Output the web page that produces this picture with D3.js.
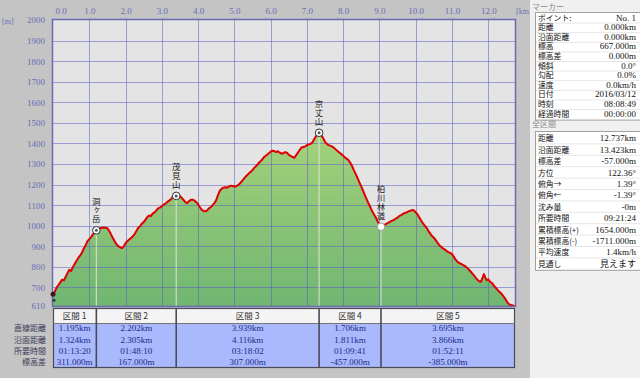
<!DOCTYPE html>
<html><head><meta charset="utf-8">
<script src="https://cdn.jsdelivr.net/npm/d3@7"></script>
<style>
html,body{margin:0;padding:0;background:#c4c4c4;}
svg{display:block;}
</style></head>
<body>
<svg id="c" width="640" height="378"></svg>
<script>
// ---------- data ----------
const distKm = [0.00,0.05,0.10,0.15,0.20,0.25,0.30,0.35,0.40,0.45,0.50,0.55,0.60,0.65,0.70,0.75,0.80,0.85,0.90,0.95,1.00,1.05,1.10,1.15,1.195,1.25,1.30,1.35,1.40,1.45,1.50,1.55,1.60,1.65,1.70,1.75,1.80,1.85,1.90,1.95,2.00,2.05,2.10,2.15,2.20,2.25,2.30,2.35,2.40,2.45,2.50,2.55,2.60,2.65,2.70,2.75,2.80,2.85,2.90,2.95,3.00,3.05,3.10,3.15,3.20,3.25,3.30,3.35,3.397,3.45,3.50,3.55,3.60,3.65,3.70,3.75,3.80,3.85,3.90,3.95,4.00,4.05,4.10,4.15,4.20,4.25,4.30,4.35,4.40,4.45,4.50,4.55,4.60,4.65,4.70,4.75,4.80,4.85,4.90,4.95,5.00,5.05,5.10,5.15,5.20,5.25,5.30,5.35,5.40,5.45,5.50,5.55,5.60,5.65,5.70,5.75,5.80,5.85,5.90,5.95,6.00,6.05,6.10,6.15,6.20,6.25,6.30,6.35,6.40,6.45,6.50,6.55,6.60,6.65,6.70,6.75,6.80,6.85,6.90,6.95,7.00,7.05,7.10,7.15,7.20,7.25,7.30,7.336,7.40,7.45,7.50,7.55,7.60,7.65,7.70,7.75,7.80,7.85,7.90,7.95,8.00,8.05,8.10,8.15,8.20,8.25,8.30,8.35,8.40,8.45,8.50,8.55,8.60,8.65,8.70,8.75,8.80,8.85,8.90,8.95,9.00,9.042,9.10,9.15,9.20,9.25,9.30,9.35,9.40,9.45,9.50,9.55,9.60,9.65,9.70,9.75,9.80,9.85,9.90,9.95,10.00,10.05,10.10,10.15,10.20,10.25,10.30,10.35,10.40,10.45,10.50,10.55,10.60,10.65,10.70,10.75,10.80,10.85,10.90,10.95,11.00,11.05,11.10,11.15,11.20,11.25,11.30,11.35,11.40,11.45,11.50,11.55,11.60,11.65,11.70,11.75,11.80,11.85,11.88,11.92,11.96,12.00,12.05,12.10,12.15,12.20,12.25,12.30,12.35,12.40,12.45,12.50,12.55,12.60,12.65,12.70,12.737];
const elevM = [667,680,700,712,725,738,735,752,770,786,780,800,815,830,845,856,870,890,905,925,935,945,958,968,978,985,988,990,992,990,988,975,958,940,925,910,902,895,891,900,915,925,933,940,948,960,975,990,998,1010,1018,1030,1042,1050,1047,1060,1065,1075,1085,1088,1095,1103,1108,1115,1122,1128,1140,1142,1145,1147,1145,1135,1125,1115,1110,1120,1126,1127,1122,1115,1105,1090,1078,1072,1070,1075,1085,1090,1100,1110,1125,1150,1170,1180,1185,1187,1185,1190,1195,1193,1190,1192,1197,1205,1215,1225,1237,1245,1255,1262,1270,1282,1290,1300,1310,1318,1330,1338,1345,1352,1360,1365,1363,1358,1362,1355,1350,1352,1358,1355,1345,1340,1335,1330,1342,1355,1368,1380,1383,1385,1392,1395,1398,1405,1420,1435,1448,1452,1440,1425,1408,1398,1392,1388,1385,1378,1370,1362,1355,1348,1340,1332,1325,1318,1305,1288,1268,1250,1230,1210,1190,1170,1148,1128,1108,1090,1070,1055,1040,1022,1005,995,998,1005,1010,1015,1020,1025,1028,1035,1040,1048,1052,1058,1062,1065,1070,1073,1076,1075,1065,1055,1040,1025,1012,1000,990,975,962,950,942,930,918,905,898,890,885,878,872,868,862,850,835,825,820,815,810,805,798,790,780,770,760,748,738,730,728,750,765,748,735,740,728,722,710,700,690,680,672,662,650,635,622,616,614,611,610];

const xTickValues = [0,1,2,3,4,5,6,7,8,9,10,11,12];
const yTickValues = [610,700,800,900,1000,1100,1200,1300,1400,1500,1600,1700,1800,1900,2000];

const wpNames = ["洞ヶ岳","茂見山","京丈山","柏川林道"];
const wpDist  = [1.195,3.397,7.336,9.042];
const wpElev  = [978,1145,1452,995];
const wpOpen  = [false,false,false,true];

const secNames    = ["区間 1","区間 2","区間 3","区間 4","区間 5"];
const secKm       = [1.195,2.202,3.939,1.706,3.695];
const secStraight = ["1.195km","2.202km","3.939km","1.706km","3.695km"];
const secSurface  = ["1.324km","2.305km","4.116km","1.811km","3.866km"];
const secTime     = ["01:13:20","01:48:10","03:18:02","01:09:41","01:52:11"];
const secDelta    = ["311.000m","167.000m","307.000m","-457.000m","-385.000m"];
const rowLabels   = ["直線距離","沿面距離","所要時間","標高差"];

const markerLabels = ["ポイント:","距離","沿面距離","標高","標高差","傾斜","勾配","速度","日付","時刻","経過時間"];
const markerValues = ["No. 1","0.000km","0.000km","667.000m","0.000m","0.0°","0.0%","0.0km/h","2016/03/12","08:08:49","00:00:00"];
const totalLabels = ["距離","沿面距離","標高差","方位","俯角→","俯角←","沈み量","所要時間","累積標高(+)","累積標高(-)","平均速度","見通し"];
const totalValues = ["12.737km","13.423km","-57.000m","122.36°","1.39°","-1.39°","-0m","09:21:24","1654.000m","-1711.000m","1.4km/h","見えます"];

// ---------- layout ----------
const svg = d3.select("#c");
const L = 53, R = 515, T = 20, B = 306;
const x = d3.scaleLinear().domain([0, 12.737]).range([L, R]);
const y = d3.scaleLinear().domain([610, 2000]).range([B, T]);
const serif = "'Liberation Serif','Noto Sans CJK JP',serif";
const cjk = "'Noto Sans CJK JP','Noto Sans',sans-serif";
const axisCol = "#6a6eb6";

svg.append("rect").attr("width",640).attr("height",378).attr("fill","#c4c4c4");

// plot bg
svg.append("rect").attr("x",L).attr("y",T).attr("width",R-L).attr("height",B-T).attr("fill","#e4e4e4");

// gradient
const defs = svg.append("defs");
const grad = defs.append("linearGradient").attr("id","gf").attr("gradientUnits","userSpaceOnUse")
  .attr("x1",0).attr("x2",0).attr("y1",y(1452)).attr("y2",y(610));
grad.append("stop").attr("offset",0).attr("stop-color","#a4d27a");
grad.append("stop").attr("offset",1).attr("stop-color","#70b672");

const pts = distKm.map((d,i)=>[d,elevM[i]]);
svg.append("path").datum(pts)
  .attr("d", d3.area().x(d=>x(d[0])).y0(y(610)).y1(d=>y(d[1])))
  .attr("fill","url(#gf)");

// grid
const grid = svg.append("g").attr("stroke","#5c5fc4").attr("stroke-opacity",0.55).attr("stroke-width",1);
xTickValues.filter(v=>v>0).forEach(v=>{
  grid.append("line").attr("x1",Math.round(x(v))+0.5).attr("x2",Math.round(x(v))+0.5).attr("y1",T).attr("y2",B);
});
yTickValues.filter(v=>v>610 && v<2000).forEach(v=>{
  grid.append("line").attr("x1",L).attr("x2",R).attr("y1",Math.round(y(v))+0.5).attr("y2",Math.round(y(v))+0.5);
});

// waypoint vertical lines
wpDist.forEach((d,i)=>{
  svg.append("line").attr("x1",x(d)).attr("x2",x(d)).attr("y1",y(wpElev[i])).attr("y2",B)
    .attr("stroke","#dfe6dc").attr("stroke-opacity",0.8).attr("stroke-width",1.2);
});

// profile line
svg.append("path").datum(pts)
  .attr("d", d3.line().x(d=>x(d[0])).y(d=>y(d[1])))
  .attr("fill","none").attr("stroke","#e00000").attr("stroke-width",2).attr("stroke-linejoin","round");

// plot border
svg.append("rect").attr("x",L-0.5).attr("y",T-0.5).attr("width",R-L+1).attr("height",B-T+1)
  .attr("fill","none").attr("stroke","#6a6ab0").attr("stroke-width",1.5);

// waypoint markers and vertical labels
wpDist.forEach((d,i)=>{
  const cx = x(d), cy = y(wpElev[i]);
  svg.append("circle").attr("cx",cx).attr("cy",cy).attr("r",3.8)
    .attr("fill","#ffffff").attr("stroke",wpOpen[i]?"#9a9a9a":"#333").attr("stroke-width",1);
  if(!wpOpen[i]) svg.append("circle").attr("cx",cx).attr("cy",cy).attr("r",1.5).attr("fill","#555");
  svg.append("text").attr("x",cx).attr("y",cy-7)
    .attr("writing-mode","vertical-rl").attr("text-anchor","end")
    .attr("font-family",cjk).attr("font-size",8.5).attr("letter-spacing",0.2)
    .attr("fill","#222").text(wpNames[i]);
});
// start marker
svg.append("circle").attr("cx",x(0)).attr("cy",y(elevM[0])).attr("r",2.5).attr("fill","#3a1a1a");
svg.append("circle").attr("cx",x(0)+1).attr("cy",y(elevM[0])+6).attr("r",1.5).attr("fill","#333");

// axes
const xAxis = d3.axisTop(x).tickValues(xTickValues).tickFormat(d3.format(".1f")).tickSize(0).tickPadding(6);
const gx = svg.append("g").attr("transform",`translate(0,${T})`).call(xAxis);
gx.select(".domain").remove();
gx.selectAll("text").attr("font-family",serif).attr("font-size",9).attr("fill",axisCol);
gx.selectAll(".tick").filter(d=>d===0).select("text").attr("text-anchor","start").attr("dx",2);

const yAxis = d3.axisLeft(y).tickValues(yTickValues).tickFormat(d3.format("d")).tickSize(0).tickPadding(8);
const gy = svg.append("g").attr("transform",`translate(${L},0)`).call(yAxis);
gy.select(".domain").remove();
gy.selectAll("text").attr("font-family",serif).attr("font-size",9).attr("fill",axisCol);

svg.append("text").attr("x",2).attr("y",24).attr("font-family",serif).attr("font-size",8).attr("fill",axisCol).text("[m]");
svg.append("text").attr("x",516).attr("y",14).attr("font-family",serif).attr("font-size",8).attr("fill",axisCol).text("[km]");

// section table
const cum = [0]; secKm.forEach(v=>cum.push(cum[cum.length-1]+v));
const tTop = 308, hHead = 15, tBot = 368;
const rowY = [328, 339.5, 350.5, 361.5];
svg.append("rect").attr("x",L).attr("y",tTop+hHead).attr("width",R-L).attr("height",tBot-tTop-hHead).attr("fill","#a9b9fb");
svg.append("rect").attr("x",L).attr("y",tTop).attr("width",R-L).attr("height",hHead).attr("fill","#f4f4f4");
secNames.forEach((nm,i)=>{
  const x0 = x(cum[i]), x1 = x(cum[i+1]), cx = (x0+x1)/2;
  svg.append("text").attr("x",cx).attr("y",tTop+11).attr("text-anchor","middle")
    .attr("font-family",cjk).attr("font-size",8.5).attr("fill","#333").text(nm);
  [secStraight[i],secSurface[i],secTime[i],secDelta[i]].forEach((v,r)=>{
    svg.append("text").attr("x",cx).attr("y",rowY[r]+3).attr("text-anchor","middle")
      .attr("font-family",serif).attr("font-size",9).attr("fill","#1c2a8a").text(v);
  });
});
// table lines
const tl = svg.append("g").attr("stroke","#4a4a5a").attr("fill","none");
tl.append("rect").attr("x",L+0.5).attr("y",tTop+0.5).attr("width",R-L-1).attr("height",tBot-tTop-1).attr("stroke-width",1.2);
tl.append("line").attr("x1",L).attr("x2",R).attr("y1",tTop+hHead+0.5).attr("y2",tTop+hHead+0.5).attr("stroke","#777");
cum.slice(1,-1).forEach(c=>{
  tl.append("line").attr("x1",x(c)).attr("x2",x(c)).attr("y1",tTop).attr("y2",tBot).attr("stroke-width",1.6);
});
rowLabels.forEach((t,r)=>{
  svg.append("text").attr("x",46).attr("y",rowY[r]+3).attr("text-anchor","end")
    .attr("font-family",cjk).attr("font-size",8).attr("fill","#3a3a5a").text(t);
});

// right panel
const P = 530;
svg.append("rect").attr("x",P).attr("y",0).attr("width",640-P).attr("height",378).attr("fill","#f0f0f0");
svg.append("text").attr("x",532).attr("y",10).attr("font-family",cjk).attr("font-size",8).attr("fill","#8a8a8a").text("マーカー");
svg.append("text").attr("x",532).attr("y",127).attr("font-family",cjk).attr("font-size",8).attr("fill","#8a8a8a").text("全区間");

function propBox(top, rowH, labels, values){
  const h = rowH*labels.length + 2;
  svg.append("rect").attr("x",535.5).attr("y",top+0.5).attr("width",110).attr("height",h).attr("fill","#ffffff").attr("stroke","#a0a0a0");
  labels.forEach((lb,i)=>{
    const yy = top + 1 + rowH*i;
    if(i>0) svg.append("line").attr("x1",536).attr("x2",640).attr("y1",yy+0.5).attr("y2",yy+0.5).attr("stroke","#e6e6e6");
    svg.append("text").attr("x",538).attr("y",yy+rowH-2).attr("font-family",cjk).attr("font-size",7.8).attr("fill","#111").text(lb);
    svg.append("text").attr("x",636).attr("y",yy+rowH-2).attr("text-anchor","end").attr("font-family",serif).attr("font-size",9).attr("fill","#111").text(values[i]);
  });
}
propBox(12, 9.6, markerLabels, markerValues);
propBox(131, 11.4, totalLabels, totalValues);
</script>
</body></html>
